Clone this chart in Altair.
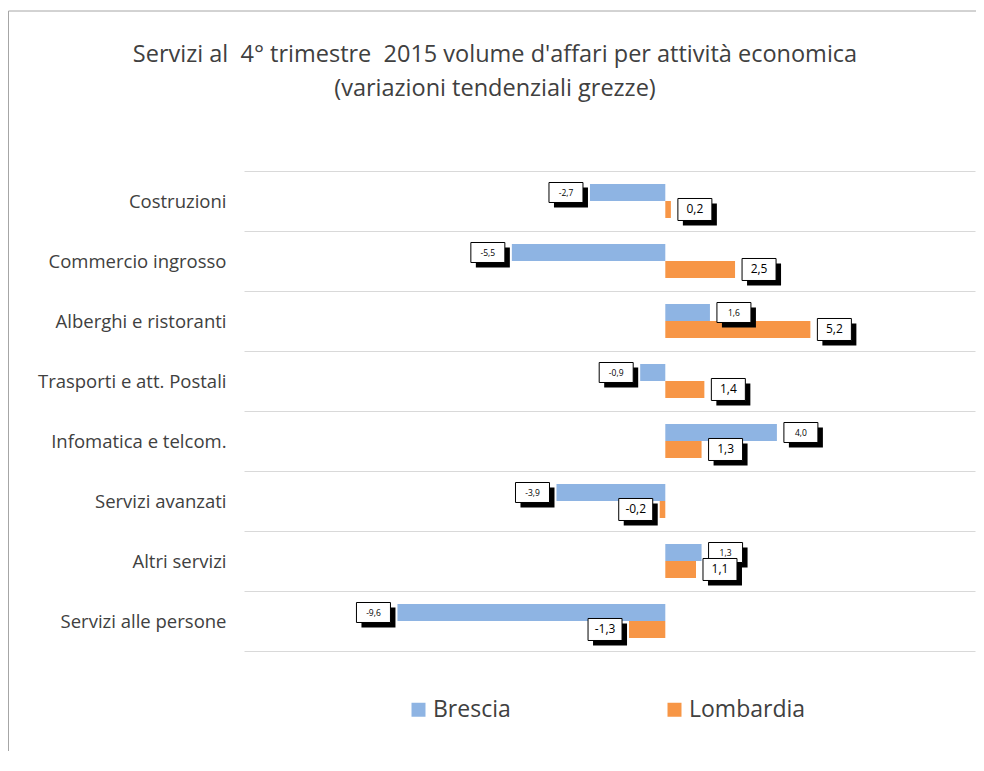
import altair as alt
import pandas as pd

categories = ["Costruzioni", "Commercio ingrosso", "Alberghi e ristoranti",
              "Trasporti e att. Postali", "Infomatica e telcom.",
              "Servizi avanzati", "Altri servizi", "Servizi alle persone"]
series = ["Brescia", "Lombardia"]
brescia = [-2.7, -5.5, 1.6, -0.9, 4.0, -3.9, 1.3, -9.6]
lombardia = [0.2, 2.5, 5.2, 1.4, 1.3, -0.2, 1.1, -1.3]
colors = ["#8EB4E3", "#F79646"]
title_lines = ["Servizi al \u00a04° trimestre \u00a02015 volume d'affari per attività economica",
               "(variazioni tendenziali grezze)"]

rows = []
for s, vals in zip(series, [brescia, lombardia]):
    for c, v in zip(categories, vals):
        rows.append({"cat": c, "serie": s, "v": v,
                     "lab": f"{v:.1f}".replace(".", ",")})
df = pd.DataFrame(rows)

FONT = "Open Sans"
TXT = "#404040"

y_enc = alt.Y("cat:N", sort=categories,
              scale=alt.Scale(paddingInner=0, paddingOuter=0),
              axis=alt.Axis(title=None, domain=False, ticks=False, grid=True,
                            tickBand="extent", gridColor="#d9d9d9", gridWidth=1,
                            labelFontSize=18.5, labelColor=TXT, labelFont=FONT,
                            labelPadding=18, labelLimit=400))
yoff = alt.YOffset("serie:N", sort=series,
                   scale=alt.Scale(paddingInner=0, paddingOuter=0.765))
x_scale = alt.Scale(domain=[-15.1, 11.1], nice=False, zero=False)

base = alt.Chart(df)

bars = base.mark_bar().encode(
    x=alt.X("v:Q", scale=x_scale, axis=None),
    y=y_enc,
    yOffset=yoff,
    color=alt.Color("serie:N", sort=series,
                    scale=alt.Scale(domain=series, range=colors),
                    legend=alt.Legend(title=None, orient="none", legendX=163, legendY=527,
                                      direction="horizontal", symbolType="square",
                                      symbolSize=196, symbolStrokeWidth=0,
                                      labelFontSize=23, labelColor=TXT, labelFont=FONT,
                                      labelOffset=3, columnPadding=152)),
)

def label_layer(name, half_h, font_size):
    hh = half_h / 17.0
    o = 5 / 17.0
    box = f"M-1,{-hh:.3f}H1V{hh:.3f}H-1Z"
    shadow = f"M{-1+o:.3f},{-hh+o:.3f}H{1+o:.3f}V{hh+o:.3f}H{-1+o:.3f}Z"
    b = base.transform_filter(alt.datum.serie == name).transform_calculate(
        lx="datum.v + (datum.v < 0 ? -0.86 : 0.86)")
    enc = dict(x=alt.X("lx:Q", scale=x_scale, axis=None), y=y_enc, yOffset=yoff)
    sh = b.mark_point(shape=shadow, size=1156, filled=True, fill="black",
                      stroke="black", strokeWidth=0, opacity=1).encode(**enc)
    bx = b.mark_point(shape=box, size=1156, filled=True, fill="white",
                      stroke="black", strokeWidth=1, opacity=1).encode(**enc)
    tx = b.mark_text(fontSize=font_size, font=FONT, color="black",
                     align="center", baseline="middle").encode(text="lab:N", **enc)
    return sh + bx + tx

one = pd.DataFrame({"a": [0]})
frame_top = alt.Chart(one).mark_rule(color="#a6a6a6", strokeWidth=1).encode(
    x=alt.value(-235.5), x2=alt.value(740), y=alt.value(-160))
frame_left = alt.Chart(one).mark_rule(color="#a6a6a6", strokeWidth=1).encode(
    x=alt.value(-235.5), y=alt.value(-160), y2=alt.value(600))

def title_line(txt, ypix):
    return alt.Chart(one).mark_text(fontSize=23.5, font=FONT, color=TXT,
                                    align="center", baseline="middle").encode(
        text=alt.value(txt), x=alt.value(251), y=alt.value(ypix))

chart = alt.layer(
    frame_top, frame_left,
    title_line(title_lines[0], -116), title_line(title_lines[1], -82),
    bars,
    label_layer("Brescia", 10, 8.5),
    label_layer("Lombardia", 11, 12),
).properties(
    width=731, height=480,
    autosize=alt.AutoSizeParams(type="none"),
    padding={"left": 236, "top": 163, "right": 1, "bottom": 100},
    background="white",
).configure_view(strokeWidth=0, stroke="transparent")

chart.save("out.html", embed_options={"renderer": "svg", "actions": False})
